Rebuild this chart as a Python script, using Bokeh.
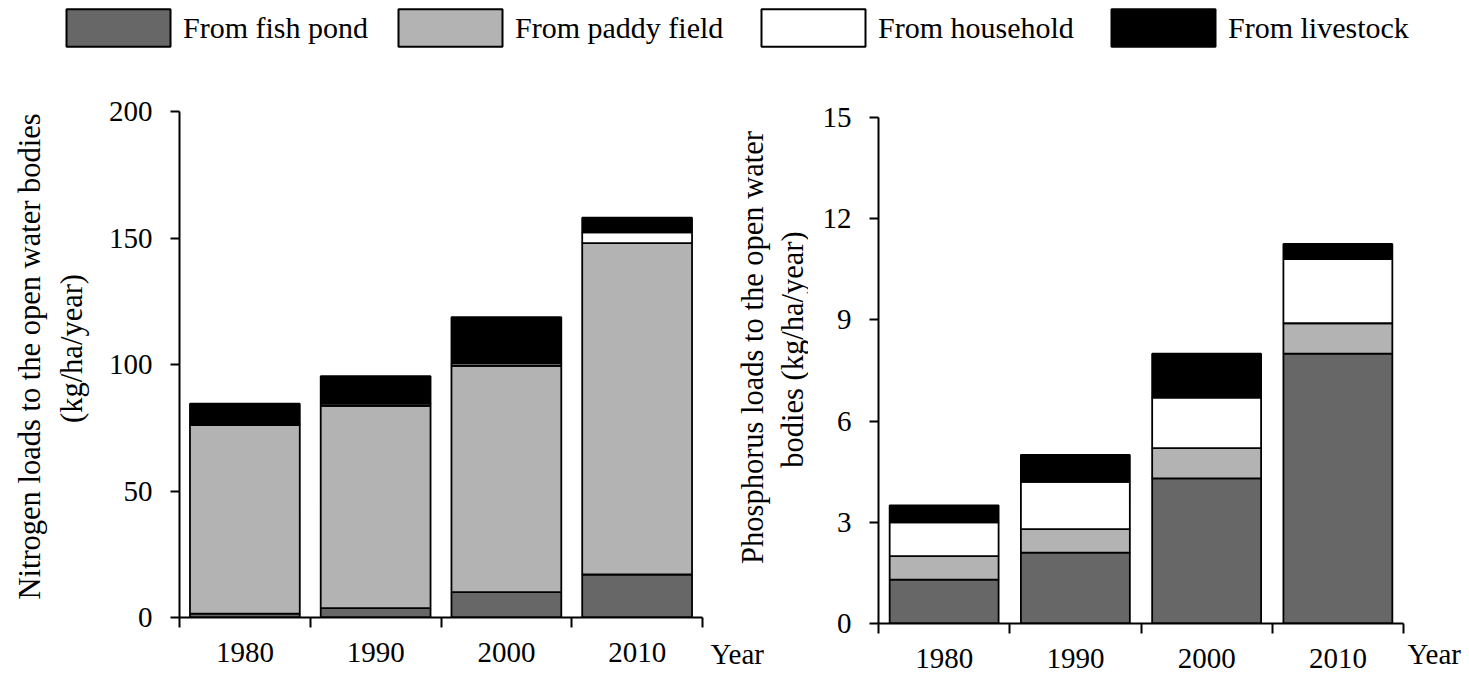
import math
from bokeh.plotting import figure
from bokeh.models import ColumnDataSource, FixedTicker, Range1d, Label, Legend, LegendItem
from bokeh.layouts import column, row
from bokeh.embed import file_html
from bokeh.resources import INLINE

# ---------------- data ----------------
years = ["1980", "1990", "2000", "2010"]
sources = ["From fish pond", "From paddy field", "From household", "From livestock"]
colors = ["#676767", "#b3b3b3", "#ffffff", "#000000"]

# Nitrogen loads (kg/ha/year)
n_fish = [1.5, 3.7, 10.0, 17.0]
n_paddy = [74.5, 80.0, 89.5, 131.0]
n_house = [0.5, 0.8, 1.0, 4.2]
n_live = [8.0, 10.9, 18.2, 5.8]

# Phosphorus loads (kg/ha/year)
p_fish = [1.3, 2.1, 4.3, 8.0]
p_paddy = [0.7, 0.7, 0.9, 0.9]
p_house = [1.0, 1.4, 1.5, 1.9]
p_live = [0.5, 0.8, 1.3, 0.45]

n_ticks = [0, 50, 100, 150, 200]
p_ticks = [0, 3, 6, 9, 12, 15]

n_label = ["Nitrogen loads to the open water bodies", "(kg/ha/year)"]
p_label = ["Phosphorus loads to the open water", "bodies (kg/ha/year)"]
x_name = "Year"

FONT = "Liberation Serif"
FS = "29px"
FS_LEG = "30px"
FS_T = "30.5px"
KEYS = ["fish", "paddy", "house", "live"]
ROW_H = 627


def no_align(p):
    try:
        p.frame_align = False
    except Exception:
        pass


def blank(width, height):
    b = figure(width=width, height=height, output_backend="svg", toolbar_location=None,
               x_axis_location=None, y_axis_location=None, min_border=0,
               x_range=Range1d(0, 1), y_range=Range1d(0, 1))
    b.outline_line_color = None
    b.grid.visible = False
    no_align(b)
    return b


def add_text(p, text, x, y, angle=0.0, align="center", baseline="middle", size=FS):
    p.add_layout(Label(x=x, y=y, x_units="screen", y_units="screen", text=text,
                       angle=angle, text_align=align, text_baseline=baseline,
                       text_font=FONT, text_font_size=size, text_color="black"))


def make_chart(width, bl, br, bt, bb, values, ticks, bar_width):
    xs = [i + 0.5 for i in range(len(years))]
    data = dict(x=xs)
    for k, v in zip(KEYS, values):
        data[k] = v
    src = ColumnDataSource(data)
    p = figure(width=width, height=ROW_H,
               x_range=Range1d(0, len(years)), y_range=Range1d(ticks[0], ticks[-1]),
               output_backend="svg", toolbar_location=None,
               min_border_left=bl, min_border_right=br, min_border_top=bt, min_border_bottom=bb)
    no_align(p)
    p.vbar_stack(KEYS, x="x", width=bar_width, fill_color=colors,
                 line_color="black", line_width=1.8, source=src)
    p.outline_line_color = None
    p.grid.visible = False

    xa = p.xaxis[0]
    xa.ticker = FixedTicker(ticks=xs, minor_ticks=list(range(len(years) + 1)))
    xa.major_label_overrides = {x: y for x, y in zip(xs, years)}
    xa.major_tick_line_color = None
    xa.major_tick_out = 0
    xa.major_tick_in = 0
    xa.minor_tick_out = 10
    xa.minor_tick_in = 0
    xa.minor_tick_line_width = 2
    xa.minor_tick_line_color = "black"
    xa.axis_line_width = 2
    xa.axis_line_color = "black"
    xa.major_label_standoff = 15
    xa.major_label_text_font = FONT
    xa.major_label_text_font_size = FS
    xa.major_label_text_color = "black"

    ya = p.yaxis[0]
    ya.ticker = FixedTicker(ticks=ticks, minor_ticks=[])
    ya.major_tick_out = 9
    ya.major_tick_in = 0
    ya.major_tick_line_width = 2
    ya.major_tick_line_color = "black"
    ya.minor_tick_line_color = None
    ya.axis_line_width = 2
    ya.axis_line_color = "black"
    ya.major_label_standoff = 18
    ya.major_label_text_font = FONT
    ya.major_label_text_font_size = FS
    ya.major_label_text_color = "black"
    return p


# ---------------- legend strip ----------------
# Bokeh draws an area legend glyph inset by 10% on every side, hence 130x47 -> 104x37.6
leg = blank(1469, 48)
xs_leg = [i + 0.5 for i in range(len(years))]
box_left = [66, 398, 761, 1111]
for name, c, vals, bx in zip(sources, colors, [n_fish, n_paddy, n_house, n_live], box_left):
    r = leg.vbar(x=xs_leg, top=vals, width=0.8, fill_color=c, line_color="black",
                 line_width=2, visible=False)
    opts = dict(items=[LegendItem(label=name, renderers=[r])], orientation="horizontal",
                location=(bx - 13, -3), glyph_width=130, glyph_height=47,
                padding=0, margin=0, border_line_color=None, background_fill_alpha=0,
                inactive_fill_alpha=0, label_text_font=FONT, label_text_font_size=FS_LEG,
                label_text_color="black")
    try:
        lg = Legend(label_standoff=-4, **opts)
    except Exception:
        lg = Legend(label_standoff=0, **opts)
    leg.add_layout(lg)

# ---------------- charts ----------------
p1 = make_chart(606, 79, 4, 63, 58, [n_fish, n_paddy, n_house, n_live], n_ticks, 0.84)
p2 = make_chart(597, 70, 2, 69, 52, [p_fish, p_paddy, p_house, p_live], p_ticks, 0.83)

# text strips around the charts
left_strip = blank(100, ROW_H)
add_text(left_strip, n_label[0], 29, 319, angle=math.pi / 2, size=FS_T)
add_text(left_strip, n_label[1], 71, 327, angle=math.pi / 2, size=FS_T)

mid_strip = blank(102, ROW_H)
add_text(mid_strip, x_name, 4, 22, align="left", baseline="middle")
add_text(mid_strip, p_label[0], 46, 328, angle=math.pi / 2, size=FS_T)
add_text(mid_strip, p_label[1], 86, 326, angle=math.pi / 2, size=FS_T)

right_strip = blank(64, ROW_H)
add_text(right_strip, x_name, 2, 22, align="left", baseline="middle")

layout = column(leg, row(left_strip, p1, mid_strip, p2, right_strip))
open("out.html", "w").write(file_html(layout, INLINE))
